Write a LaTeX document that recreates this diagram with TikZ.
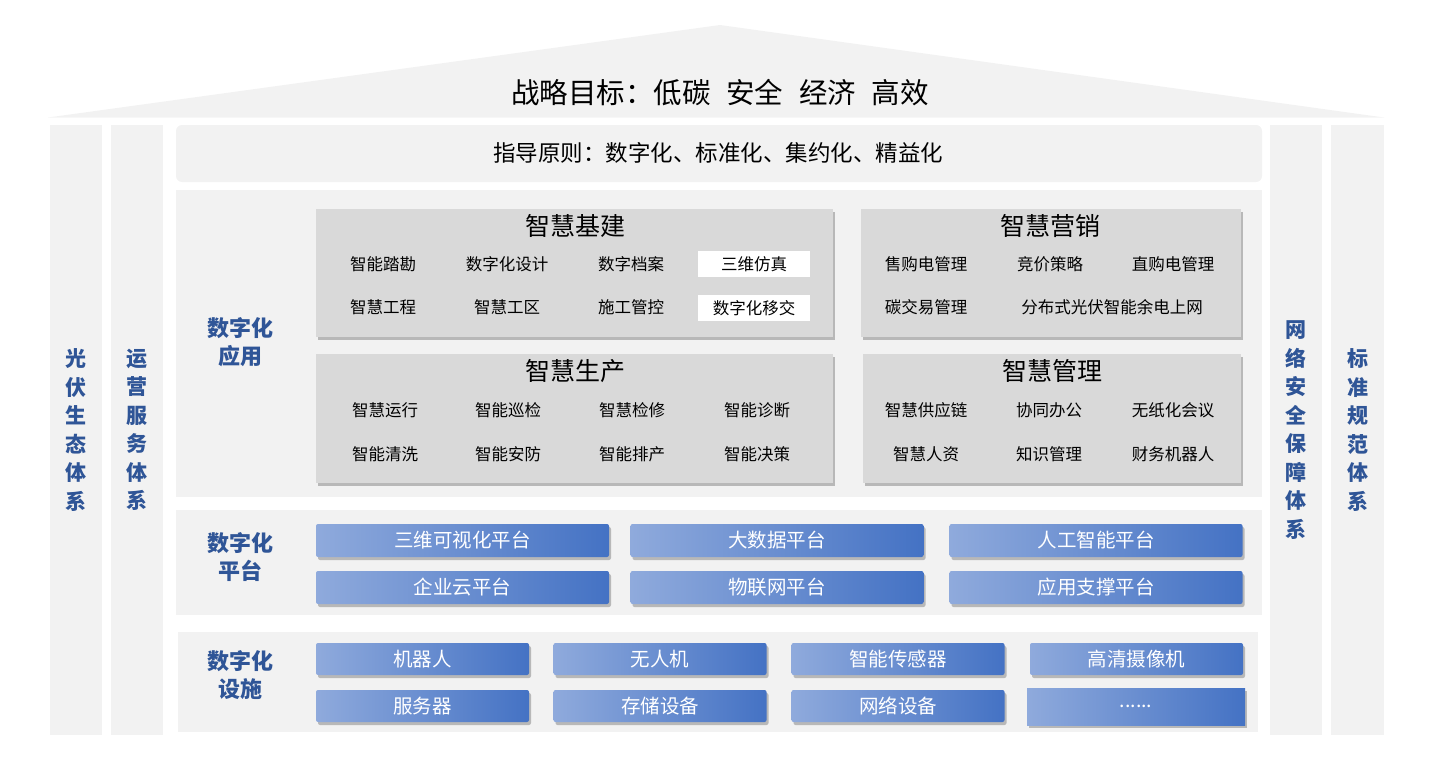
\documentclass[tikz,border=0pt]{standalone}
\usepackage{fontspec}
\setmainfont{Noto Sans CJK SC}
\usetikzlibrary{shadows}
\definecolor{lg}{HTML}{F2F2F2}
\definecolor{boxgray}{HTML}{D9D9D9}
\definecolor{labblue}{HTML}{2F5597}
\definecolor{barL}{HTML}{8FAADC}
\definecolor{barR}{HTML}{4472C4}
\tikzset{
  panel/.style={fill=lg,draw=none,inner sep=0pt},
  sidecol/.style={panel,minimum width=52pt,minimum height=610pt,text=labblue,
    font=\bfseries\fontsize{21}{28.5}\selectfont,align=center},
  seclab/.style={text=labblue,font=\bfseries\fontsize{22}{28}\selectfont,align=center},
  appbox/.style={fill=boxgray,draw=none,inner sep=0pt,
    drop shadow={shadow xshift=2pt,shadow yshift=-3pt,opacity=.35,fill=black!70}},
  apptitle/.style={font=\fontsize{25}{27}\selectfont},
  item/.style={font=\fontsize{16.5}{18}\selectfont},
  whitebox/.style={fill=white,draw=none,minimum width=112pt,minimum height=26pt,inner sep=0pt,font=\fontsize{16.5}{18}\selectfont},
  bar/.style={left color=barL,right color=barR,draw=none,rounded corners=2pt,inner sep=0pt,
    text=white,font=\fontsize{19.5}{21}\selectfont,
    drop shadow={shadow xshift=2pt,shadow yshift=-3pt,opacity=.35,fill=black!70}},
  pbar/.style={bar,minimum width=293pt,minimum height=33pt},
  fbar/.style={bar,minimum width=213pt,minimum height=32pt}
}
\begin{document}
\begin{tikzpicture}[x=1pt,y=-1pt]
\useasboundingbox (0,0) rectangle (1440,760);
% roof
\fill[lg] (48,117.5) -- (720,25) -- (1384,117.5) -- cycle;
\node (goal) at (720,93) {\fontsize{28.5}{30}\selectfont 战略目标：低碳\hspace{0.55em}安全\hspace{0.55em}经济\hspace{0.55em}高效};

% side columns
\node[sidecol] (c1) at (76,430) {光\\伏\\生\\态\\体\\系};
\node[sidecol] (c2) at (137,430) {运\\营\\服\\务\\体\\系};
\node[sidecol] (c3) at (1296,430) {网\\络\\安\\全\\保\\障\\体\\系};
\node[sidecol,minimum width=53pt] (c4) at (1357.5,430) {标\\准\\规\\范\\体\\系};

% principle
\node[panel,rounded corners=6pt,minimum width=1086pt,minimum height=57pt] (pr) at (719,153.5) {};
\node[font=\fontsize{22.5}{24}\selectfont] (prt) at (718,153) {指导原则：数字化、标准化、集约化、精益化};

% sections
\node[panel,minimum width=1086pt,minimum height=307pt] (sapp) at (719,343.5) {};
\node[seclab] (lapp) at (240,342) {数字化\\应用};
\node[panel,minimum width=1086pt,minimum height=105pt] (splat) at (719,562.5) {};
\node[seclab] (lplat) at (240,557) {数字化\\平台};
\node[panel,minimum width=1080pt,minimum height=100pt] (sfac) at (718,682) {};
\node[seclab] (lfac) at (240,675) {数字化\\设施};

% application boxes
\node[appbox,minimum width=517pt,minimum height=128pt] (b1) at (574.5,273) {};
\node[appbox,minimum width=380pt,minimum height=128pt] (b2) at (1051,273) {};
\node[appbox,minimum width=517pt,minimum height=129pt] (b3) at (574.5,418.5) {};
\node[appbox,minimum width=378pt,minimum height=129pt] (b4) at (1052,418.5) {};

\node[apptitle] (t1) at (575,226) {智慧基建};
\node[apptitle] (t2) at (1050,226) {智慧营销};
\node[apptitle] (t3) at (575,371) {智慧生产};
\node[apptitle] (t4) at (1052,371) {智慧管理};

% 智慧基建
\node[item] (a11) at (383,264) {智能踏勘};
\node[item] (a12) at (507,264) {数字化设计};
\node[item] (a13) at (631,264) {数字档案};
\node[whitebox] (a14) at (754,264) {三维仿真};
\node[item] (a21) at (383,307.5) {智慧工程};
\node[item] (a22) at (507,307.5) {智慧工区};
\node[item] (a23) at (631,307.5) {施工管控};
\node[whitebox] (a24) at (754,308) {数字化移交};

% 智慧营销
\node[item] (m11) at (926,264) {售购电管理};
\node[item] (m12) at (1050,264) {竞价策略};
\node[item] (m13) at (1173,264) {直购电管理};
\node[item] (m21) at (926,307.5) {碳交易管理};
\node[item] (m22) at (1112,307.5) {分布式光伏智能余电上网};

% 智慧生产
\node[item] (p11) at (385,410.5) {智慧运行};
\node[item] (p12) at (508,410.5) {智能巡检};
\node[item] (p13) at (632,410.5) {智慧检修};
\node[item] (p14) at (757,410.5) {智能诊断};
\node[item] (p21) at (385,454.5) {智能清洗};
\node[item] (p22) at (508,454.5) {智能安防};
\node[item] (p23) at (632,454.5) {智能排产};
\node[item] (p24) at (757,454.5) {智能决策};

% 智慧管理
\node[item] (g11) at (926,410.5) {智慧供应链};
\node[item] (g12) at (1049,410.5) {协同办公};
\node[item] (g13) at (1173,410.5) {无纸化会议};
\node[item] (g21) at (926,454.5) {智慧人资};
\node[item] (g22) at (1049,454.5) {知识管理};
\node[item] (g23) at (1173,454.5) {财务机器人};

% platform bars
\node[pbar] (pl1) at (462.5,540.5) {三维可视化平台};
\node[pbar] (pl2) at (777,540.5) {大数据平台};
\node[pbar] (pl3) at (1096,540.5) {人工智能平台};
\node[pbar] (pl4) at (462.5,587.5) {企业云平台};
\node[pbar] (pl5) at (777,587.5) {物联网平台};
\node[pbar] (pl6) at (1096,587.5) {应用支撑平台};

% facility bars
\node[fbar] (f1) at (422.5,659) {机器人};
\node[fbar] (f2) at (660,659) {无人机};
\node[fbar] (f3) at (898,659) {智能传感器};
\node[fbar] (f4) at (1136.5,659) {高清摄像机};
\node[fbar] (f5) at (422.5,706) {服务器};
\node[fbar] (f6) at (660,706) {存储设备};
\node[fbar] (f7) at (898,706) {网络设备};
\node[bar,rounded corners=0pt,minimum width=218pt,minimum height=37pt] (f8) at (1136,706.5) {......};
\end{tikzpicture}
\end{document}
